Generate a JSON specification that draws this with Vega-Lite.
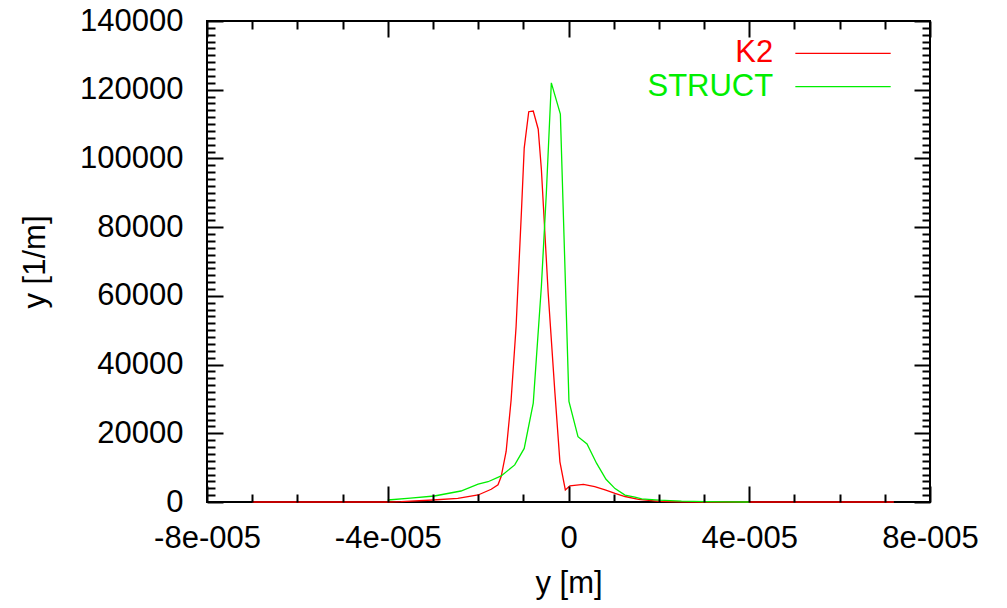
{
  "$schema": "https://vega.github.io/schema/vega-lite/v6.json",
  "width": 723,
  "height": 481,
  "autosize": {"type": "none"},
  "padding": {"left": 207, "top": 21, "right": 77, "bottom": 106},
  "background": "white",
  "config": {
    "view": {"stroke": "black", "strokeWidth": 2},
    "font": "Liberation Sans",
    "axis": {
      "grid": false,
      "domain": false,
      "labelFont": "Liberation Sans",
      "titleFont": "Liberation Sans",
      "labelFontSize": 31,
      "titleFontSize": 31,
      "labelColor": "black",
      "titleColor": "black",
      "titleFontWeight": "normal",
      "tickColor": "black",
      "tickWidth": 2
    }
  },
  "datasets": {
    "curves": [
      {"series": "K2", "x": -7e-5, "y": 0},
      {"series": "K2", "x": -6e-5, "y": 0},
      {"series": "K2", "x": -5e-5, "y": 0},
      {"series": "K2", "x": -4e-5, "y": 0},
      {"series": "K2", "x": -3.7e-5, "y": 100},
      {"series": "K2", "x": -3.0e-5, "y": 580},
      {"series": "K2", "x": -2.45e-5, "y": 1080},
      {"series": "K2", "x": -2.0e-5, "y": 2040},
      {"series": "K2", "x": -1.71e-5, "y": 3700},
      {"series": "K2", "x": -1.56e-5, "y": 5000},
      {"series": "K2", "x": -1.49e-5, "y": 7400},
      {"series": "K2", "x": -1.38e-5, "y": 14700},
      {"series": "K2", "x": -1.27e-5, "y": 29700},
      {"series": "K2", "x": -1.16e-5, "y": 51000},
      {"series": "K2", "x": -1.04e-5, "y": 85000},
      {"series": "K2", "x": -9.8e-6, "y": 103000},
      {"series": "K2", "x": -8.8e-6, "y": 113600},
      {"series": "K2", "x": -7.8e-6, "y": 113800},
      {"series": "K2", "x": -6.7e-6, "y": 108500},
      {"series": "K2", "x": -6.0e-6, "y": 96800},
      {"series": "K2", "x": -4.5e-6, "y": 60900},
      {"series": "K2", "x": -3.0e-6, "y": 31700},
      {"series": "K2", "x": -1.9e-6, "y": 11700},
      {"series": "K2", "x": -7e-7, "y": 3500},
      {"series": "K2", "x": 3e-7, "y": 4700},
      {"series": "K2", "x": 3.3e-6, "y": 5100},
      {"series": "K2", "x": 5.8e-6, "y": 4500},
      {"series": "K2", "x": 8.1e-6, "y": 3500},
      {"series": "K2", "x": 1.03e-5, "y": 2500},
      {"series": "K2", "x": 1.25e-5, "y": 1600},
      {"series": "K2", "x": 1.55e-5, "y": 780},
      {"series": "K2", "x": 2.0e-5, "y": 200},
      {"series": "K2", "x": 2.5e-5, "y": 50},
      {"series": "K2", "x": 3.0e-5, "y": 0},
      {"series": "K2", "x": 4.0e-5, "y": 0},
      {"series": "K2", "x": 5.0e-5, "y": 0},
      {"series": "K2", "x": 6.0e-5, "y": 0},
      {"series": "K2", "x": 7.2e-5, "y": 0},
      {"series": "STRUCT", "x": -4.0e-5, "y": 580},
      {"series": "STRUCT", "x": -3.5e-5, "y": 1100},
      {"series": "STRUCT", "x": -2.97e-5, "y": 1750},
      {"series": "STRUCT", "x": -2.38e-5, "y": 3200},
      {"series": "STRUCT", "x": -2.0e-5, "y": 5200},
      {"series": "STRUCT", "x": -1.78e-5, "y": 5900},
      {"series": "STRUCT", "x": -1.49e-5, "y": 7600},
      {"series": "STRUCT", "x": -1.19e-5, "y": 10800},
      {"series": "STRUCT", "x": -9.8e-6, "y": 15600},
      {"series": "STRUCT", "x": -7.8e-6, "y": 28800},
      {"series": "STRUCT", "x": -6.0e-6, "y": 62800},
      {"series": "STRUCT", "x": -4.9e-6, "y": 90000},
      {"series": "STRUCT", "x": -3.8e-6, "y": 122000},
      {"series": "STRUCT", "x": -1.8e-6, "y": 112900},
      {"series": "STRUCT", "x": 1e-7, "y": 29300},
      {"series": "STRUCT", "x": 2.1e-6, "y": 19000},
      {"series": "STRUCT", "x": 4.1e-6, "y": 16900},
      {"series": "STRUCT", "x": 6.2e-6, "y": 11300},
      {"series": "STRUCT", "x": 8.3e-6, "y": 6600},
      {"series": "STRUCT", "x": 1.03e-5, "y": 3900},
      {"series": "STRUCT", "x": 1.25e-5, "y": 2000},
      {"series": "STRUCT", "x": 1.47e-5, "y": 1400},
      {"series": "STRUCT", "x": 1.62e-5, "y": 900},
      {"series": "STRUCT", "x": 2.0e-5, "y": 550},
      {"series": "STRUCT", "x": 2.5e-5, "y": 250},
      {"series": "STRUCT", "x": 3.03e-5, "y": 100},
      {"series": "STRUCT", "x": 3.5e-5, "y": 30},
      {"series": "STRUCT", "x": 4.0e-5, "y": 0}
    ],
    "one": [{"k": 1}]
  },
  "layer": [
    {
      "data": {"name": "curves"},
      "mark": {"type": "line", "strokeWidth": 1.3},
      "encoding": {
        "x": {
          "field": "x", "type": "quantitative",
          "scale": {"domain": [-8e-5, 8e-5], "nice": false, "zero": false},
          "axis": {
            "orient": "bottom",
            "values": [-8e-5, -4e-5, 0, 4e-5, 8e-5],
            "ticks": false,
            "labelPadding": 21,
            "labelFlush": false,
            "labelOverlap": false,
            "labelExpr": "datum.value == 0 ? '0' : (datum.value < 0 ? '-' : '') + (abs(datum.value) > 6e-5 ? '8' : '4') + 'e-005'",
            "title": "y [m]",
            "titleX": 361.5,
            "titleY": 81,
            "titleAlign": "center",
            "titleBaseline": "middle"
          }
        },
        "y": {
          "field": "y", "type": "quantitative",
          "scale": {"domain": [0, 140000], "nice": false},
          "axis": {
            "orient": "left",
            "values": [0, 20000, 40000, 60000, 80000, 100000, 120000, 140000],
            "ticks": false,
            "labelPadding": 24,
            "format": "d",
            "labelBaseline": "middle",
            "labelFlush": false,
            "labelOverlap": false,
            "title": "y [1/m]",
            "titleAngle": -90,
            "titleX": -172,
            "titleY": 240.5,
            "titleAlign": "center",
            "titleBaseline": "middle"
          }
        },
        "color": {
          "field": "series", "type": "nominal",
          "scale": {"domain": ["K2", "STRUCT"], "range": ["#ff0000", "#00ee00"]},
          "legend": null
        }
      }
    },
    {
      "data": {"name": "curves"},
      "mark": {"type": "point", "opacity": 0},
      "encoding": {
        "x": {"field": "x", "type": "quantitative",
          "axis": {"orient": "bottom", "zindex": 1, "values": [-8e-5, -4e-5, 0, 4e-5, 8e-5], "labels": false, "ticks": true, "tickSize": -16, "title": null}},
        "y": {"field": "y", "type": "quantitative",
          "axis": {"orient": "left", "zindex": 1, "values": [0, 20000, 40000, 60000, 80000, 100000, 120000, 140000], "labels": false, "ticks": true, "tickSize": -16, "title": null}}
      }
    },
    {
      "data": {"name": "curves"},
      "mark": {"type": "point", "opacity": 0},
      "encoding": {
        "x": {"field": "x", "type": "quantitative",
          "axis": {"orient": "bottom", "zindex": 1, "values": [-7e-5, -6e-5, -5e-5, -3e-5, -2e-5, -1e-5, 1e-5, 2e-5, 3e-5, 5e-5, 6e-5, 7e-5], "labels": false, "ticks": true, "tickSize": -8, "title": null}},
        "y": {"field": "y", "type": "quantitative",
          "axis": {"orient": "left", "zindex": 1, "values": [2000,4000,6000,8000,10000,12000,14000,16000,18000,22000,24000,26000,28000,30000,32000,34000,36000,38000,42000,44000,46000,48000,50000,52000,54000,56000,58000,62000,64000,66000,68000,70000,72000,74000,76000,78000,82000,84000,86000,88000,90000,92000,94000,96000,98000,102000,104000,106000,108000,110000,112000,114000,116000,118000,122000,124000,126000,128000,130000,132000,134000,136000,138000], "labels": false, "ticks": true, "tickSize": -8, "title": null}}
      }
    },
    {
      "data": {"name": "curves"},
      "mark": {"type": "point", "opacity": 0},
      "encoding": {
        "x": {"field": "x", "type": "quantitative",
          "axis": {"orient": "top", "zindex": 1, "values": [-8e-5, -4e-5, 0, 4e-5, 8e-5], "labels": false, "ticks": true, "tickSize": -16, "title": null}},
        "y": {"field": "y", "type": "quantitative",
          "axis": {"orient": "right", "zindex": 1, "values": [0, 20000, 40000, 60000, 80000, 100000, 120000, 140000], "labels": false, "ticks": true, "tickSize": -16, "title": null}}
      }
    },
    {
      "data": {"name": "curves"},
      "mark": {"type": "point", "opacity": 0},
      "encoding": {
        "x": {"field": "x", "type": "quantitative",
          "axis": {"orient": "top", "zindex": 1, "values": [-7e-5, -6e-5, -5e-5, -3e-5, -2e-5, -1e-5, 1e-5, 2e-5, 3e-5, 5e-5, 6e-5, 7e-5], "labels": false, "ticks": true, "tickSize": -8, "title": null}},
        "y": {"field": "y", "type": "quantitative",
          "axis": {"orient": "right", "zindex": 1, "values": [2000,4000,6000,8000,10000,12000,14000,16000,18000,22000,24000,26000,28000,30000,32000,34000,36000,38000,42000,44000,46000,48000,50000,52000,54000,56000,58000,62000,64000,66000,68000,70000,72000,74000,76000,78000,82000,84000,86000,88000,90000,92000,94000,96000,98000,102000,104000,106000,108000,110000,112000,114000,116000,118000,122000,124000,126000,128000,130000,132000,134000,136000,138000], "labels": false, "ticks": true, "tickSize": -8, "title": null}}
      }
    },
    {
      "data": {"name": "one"},
      "mark": {"type": "text", "align": "right", "baseline": "middle", "fontSize": 31, "font": "Liberation Sans", "color": "#ff0000"},
      "encoding": {
        "x": {"datum": 4.53e-5, "type": "quantitative", "axis": null},
        "y": {"datum": 130600, "type": "quantitative", "axis": null},
        "text": {"value": "K2"}
      }
    },
    {
      "data": {"name": "one"},
      "mark": {"type": "text", "align": "right", "baseline": "middle", "fontSize": 31, "font": "Liberation Sans", "color": "#00ee00"},
      "encoding": {
        "x": {"datum": 4.53e-5, "type": "quantitative", "axis": null},
        "y": {"datum": 120880, "type": "quantitative", "axis": null},
        "text": {"value": "STRUCT"}
      }
    },
    {
      "data": {"name": "one"},
      "mark": {"type": "rule", "strokeWidth": 1.3, "color": "#ff0000"},
      "encoding": {
        "x": {"datum": 5.02e-5, "type": "quantitative", "axis": null},
        "x2": {"datum": 7.13e-5},
        "y": {"datum": 130600, "type": "quantitative", "axis": null}
      }
    },
    {
      "data": {"name": "one"},
      "mark": {"type": "rule", "strokeWidth": 1.3, "color": "#00ee00"},
      "encoding": {
        "x": {"datum": 5.02e-5, "type": "quantitative", "axis": null},
        "x2": {"datum": 7.13e-5},
        "y": {"datum": 120880, "type": "quantitative", "axis": null}
      }
    }
  ],
  "resolve": {"axis": {"x": "independent", "y": "independent"}}
}
